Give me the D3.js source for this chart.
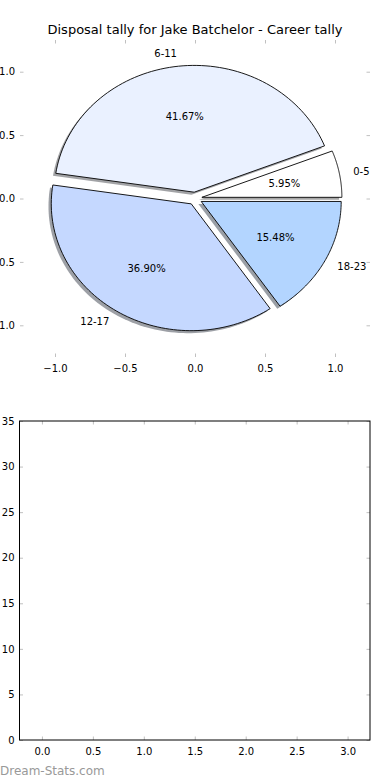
<!DOCTYPE html>
<html>
<head>
<meta charset="utf-8">
<script src="https://cdnjs.cloudflare.com/ajax/libs/d3/7.8.5/d3.min.js"></script>
<style>
  html, body { margin: 0; padding: 0; background: #fff; }
  svg { display: block; font-family: "DejaVu Sans", sans-serif; }
</style>
</head>
<body>
<div id="chart"></div>
<script>
// pie data
var categories = ["0-5", "6-11", "12-17", "18-23"];
var counts = [5, 35, 31, 13];
var sliceColors = ["#ffffff", "#eaf1ff", "#c5d8ff", "#b3d5ff"];
var pieTicks = [-1.0, -0.5, 0.0, 0.5, 1.0];

// second (empty) panel
var barTicksX = [0.0, 0.5, 1.0, 1.5, 2.0, 2.5, 3.0];
var barTicksY = [0, 5, 10, 15, 20, 25, 30, 35];

var title = "Disposal tally for Jake Batchelor - Career tally";

var W = 390, H = 780;
var tickColor = "#c0c0c0";
var tickLen = 3.5;

var svg = d3.select("#chart").append("svg")
  .attr("width", W).attr("height", H);

// ---------- top panel : exploded pie ----------
var x = d3.scaleLinear().domain([-1.25, 1.25]).range([20, 370]);
var y = d3.scaleLinear().domain([-1.25, 1.25]).range([357, 40]);

var piePanel = svg.append("g");

piePanel.append("text")
  .attr("x", 195).attr("y", 34)
  .attr("text-anchor", "middle")
  .style("font-size", "13px")
  .text(title);

var total = d3.sum(counts);
var pie = d3.pie().sort(null).startAngle(0).endAngle(2 * Math.PI);
var arcs = pie(counts);

var explode = 0.05, radius = 1;

function wedgePath(a, ox, oy) {
  var pts = [[ox, oy]];
  var n = 80;
  for (var i = 0; i <= n; i++) {
    var t = a.startAngle + (a.endAngle - a.startAngle) * i / n;
    pts.push([ox + radius * Math.cos(t), oy + radius * Math.sin(t)]);
  }
  return d3.line().x(function (p) { return x(p[0]); }).y(function (p) { return y(p[1]); })(pts) + "Z";
}

function shade(c) {
  var r = d3.rgb(c);
  return d3.rgb(r.r * 0.3, r.g * 0.3, r.b * 0.3).toString();
}

// shadows behind every wedge
arcs.forEach(function (a, i) {
  var m = (a.startAngle + a.endAngle) / 2;
  var cx = explode * Math.cos(m), cy = explode * Math.sin(m);
  piePanel.append("path")
    .attr("d", wedgePath(a, cx - 0.02, cy - 0.02))
    .attr("fill", shade(sliceColors[i]))
    .attr("fill-opacity", 0.5)
    .attr("stroke", "none");
});

arcs.forEach(function (a, i) {
  var m = (a.startAngle + a.endAngle) / 2;
  var cx = explode * Math.cos(m), cy = explode * Math.sin(m);
  piePanel.append("path")
    .attr("d", wedgePath(a, cx, cy))
    .attr("fill", sliceColors[i])
    .attr("stroke", "#000")
    .attr("stroke-width", 0.9)
    .attr("stroke-linejoin", "round");

  var lx = cx + 1.1 * radius * Math.cos(m);
  var ly = cy + 1.1 * radius * Math.sin(m);
  piePanel.append("text")
    .attr("x", x(lx)).attr("y", y(ly))
    .attr("dy", "0.35em")
    .attr("text-anchor", lx > 0 ? "start" : "end")
    .style("font-size", "10px")
    .text(categories[i]);

  var px = cx + 0.6 * radius * Math.cos(m);
  var py = cy + 0.6 * radius * Math.sin(m);
  piePanel.append("text")
    .attr("x", x(px)).attr("y", y(py))
    .attr("dy", "0.35em")
    .attr("text-anchor", "middle")
    .style("font-size", "10px")
    .text((a.data / total * 100).toFixed(2) + "%");
});

// ticks, matplotlib style (inside, all four sides)
var fmt1 = function (d) { return d3.format(".1f")(d).replace("-", "\u2212"); };

piePanel.append("g").attr("transform", "translate(0," + y.range()[0] + ")")
  .call(d3.axisBottom(x).tickValues(pieTicks).tickSizeInner(-tickLen).tickSizeOuter(0).tickPadding(8).tickFormat(fmt1));
piePanel.append("g").attr("transform", "translate(0," + y.range()[1] + ")")
  .call(d3.axisTop(x).tickValues(pieTicks).tickSizeInner(-tickLen).tickSizeOuter(0).tickFormat(""));
piePanel.append("g").attr("transform", "translate(" + x.range()[0] + ",0)")
  .call(d3.axisLeft(y).tickValues(pieTicks).tickSizeInner(-tickLen).tickSizeOuter(0).tickPadding(5).tickFormat(fmt1));
piePanel.append("g").attr("transform", "translate(" + x.range()[1] + ",0)")
  .call(d3.axisRight(y).tickValues(pieTicks).tickSizeInner(-tickLen).tickSizeOuter(0).tickFormat(""));
piePanel.selectAll(".domain").remove();

// ---------- bottom panel : empty axes ----------
var bx = d3.scaleLinear().domain([-0.22, 3.22]).range([19.5, 370]);
var by = d3.scaleLinear().domain([0, 35]).range([740, 421]);

var barPanel = svg.append("g");

barPanel.append("g").attr("transform", "translate(0," + by.range()[0] + ")")
  .call(d3.axisBottom(bx).tickValues(barTicksX).tickSizeInner(-tickLen).tickSizeOuter(0).tickPadding(8).tickFormat(d3.format(".1f")));
barPanel.append("g").attr("transform", "translate(0," + by.range()[1] + ")")
  .call(d3.axisTop(bx).tickValues(barTicksX).tickSizeInner(-tickLen).tickSizeOuter(0).tickFormat(""));
barPanel.append("g").attr("transform", "translate(" + bx.range()[0] + ",0)")
  .call(d3.axisLeft(by).tickValues(barTicksY).tickSizeInner(-tickLen).tickSizeOuter(0).tickPadding(5).tickFormat(d3.format("d")));
barPanel.append("g").attr("transform", "translate(" + bx.range()[1] + ",0)")
  .call(d3.axisRight(by).tickValues(barTicksY).tickSizeInner(-tickLen).tickSizeOuter(0).tickFormat(""));
barPanel.selectAll(".domain").remove();

barPanel.append("rect")
  .attr("x", bx.range()[0]).attr("y", by.range()[1])
  .attr("width", bx.range()[1] - bx.range()[0])
  .attr("height", by.range()[0] - by.range()[1])
  .attr("fill", "none").attr("stroke", "#000").attr("stroke-width", 1);

svg.selectAll(".tick line").attr("stroke", tickColor);
svg.selectAll(".tick text").attr("fill", "#000").style("font-size", "10px").style("font-family", "DejaVu Sans");

// watermark
svg.append("text")
  .attr("x", 0).attr("y", 775)
  .style("font-size", "12px")
  .attr("fill", "#999")
  .text("Dream-Stats.com");
</script>
</body>
</html>
